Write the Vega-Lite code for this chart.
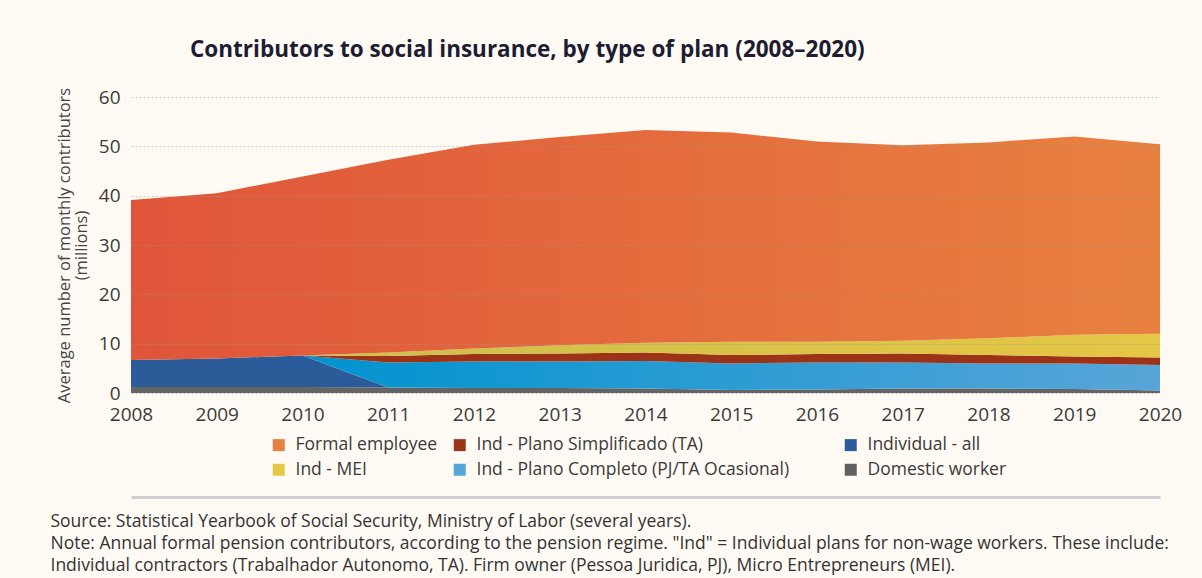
{
  "$schema": "https://vega.github.io/schema/vega-lite/v6.json",
  "width": 1029,
  "height": 296,
  "autosize": {"type": "none"},
  "padding": {"left": 131, "top": 97, "right": 42, "bottom": 185},
  "background": "#FFFBF4",
  "title": {
    "text": "Contributors to social insurance, by type of plan (2008–2020)",
    "anchor": "start",
    "frame": "group",
    "dx": 59,
    "offset": 26,
    "font": "Open Sans",
    "fontSize": 22.5,
    "fontWeight": "bold",
    "color": "#1c1d33"
  },
  "data": {
    "values": [
      {"year": 2008, "type": "Domestic worker", "value": 1.2},
      {"year": 2008, "type": "Individual - all", "value": 5.5},
      {"year": 2008, "type": "Formal employee", "value": 32.4},
      {"year": 2009, "type": "Domestic worker", "value": 1.2},
      {"year": 2009, "type": "Individual - all", "value": 5.8},
      {"year": 2009, "type": "Formal employee", "value": 33.5},
      {"year": 2010, "type": "Domestic worker", "value": 1.2},
      {"year": 2010, "type": "Individual - all", "value": 6.4},
      {"year": 2010, "type": "Ind - Plano Completo (PJ/TA Ocasional)", "value": 0},
      {"year": 2010, "type": "Ind - Plano Simplificado (TA)", "value": 0},
      {"year": 2010, "type": "Ind - MEI", "value": 0},
      {"year": 2010, "type": "Formal employee", "value": 36.3},
      {"year": 2011, "type": "Domestic worker", "value": 1.1},
      {"year": 2011, "type": "Individual - all", "value": 0},
      {"year": 2011, "type": "Ind - Plano Completo (PJ/TA Ocasional)", "value": 5.1},
      {"year": 2011, "type": "Ind - Plano Simplificado (TA)", "value": 1.3},
      {"year": 2011, "type": "Ind - MEI", "value": 0.7},
      {"year": 2011, "type": "Formal employee", "value": 39.1},
      {"year": 2012, "type": "Domestic worker", "value": 1.0},
      {"year": 2012, "type": "Ind - Plano Completo (PJ/TA Ocasional)", "value": 5.4},
      {"year": 2012, "type": "Ind - Plano Simplificado (TA)", "value": 1.5},
      {"year": 2012, "type": "Ind - MEI", "value": 1.1},
      {"year": 2012, "type": "Formal employee", "value": 41.3},
      {"year": 2013, "type": "Domestic worker", "value": 1.0},
      {"year": 2013, "type": "Ind - Plano Completo (PJ/TA Ocasional)", "value": 5.4},
      {"year": 2013, "type": "Ind - Plano Simplificado (TA)", "value": 1.6},
      {"year": 2013, "type": "Ind - MEI", "value": 1.7},
      {"year": 2013, "type": "Formal employee", "value": 42.2},
      {"year": 2014, "type": "Domestic worker", "value": 0.9},
      {"year": 2014, "type": "Ind - Plano Completo (PJ/TA Ocasional)", "value": 5.6},
      {"year": 2014, "type": "Ind - Plano Simplificado (TA)", "value": 1.7},
      {"year": 2014, "type": "Ind - MEI", "value": 2.0},
      {"year": 2014, "type": "Formal employee", "value": 43.1},
      {"year": 2015, "type": "Domestic worker", "value": 0.6},
      {"year": 2015, "type": "Ind - Plano Completo (PJ/TA Ocasional)", "value": 5.4},
      {"year": 2015, "type": "Ind - Plano Simplificado (TA)", "value": 1.7},
      {"year": 2015, "type": "Ind - MEI", "value": 2.7},
      {"year": 2015, "type": "Formal employee", "value": 42.4},
      {"year": 2016, "type": "Domestic worker", "value": 0.7},
      {"year": 2016, "type": "Ind - Plano Completo (PJ/TA Ocasional)", "value": 5.5},
      {"year": 2016, "type": "Ind - Plano Simplificado (TA)", "value": 1.7},
      {"year": 2016, "type": "Ind - MEI", "value": 2.5},
      {"year": 2016, "type": "Formal employee", "value": 40.6},
      {"year": 2017, "type": "Domestic worker", "value": 0.9},
      {"year": 2017, "type": "Ind - Plano Completo (PJ/TA Ocasional)", "value": 5.3},
      {"year": 2017, "type": "Ind - Plano Simplificado (TA)", "value": 1.8},
      {"year": 2017, "type": "Ind - MEI", "value": 2.6},
      {"year": 2017, "type": "Formal employee", "value": 39.6},
      {"year": 2018, "type": "Domestic worker", "value": 0.9},
      {"year": 2018, "type": "Ind - Plano Completo (PJ/TA Ocasional)", "value": 5.1},
      {"year": 2018, "type": "Ind - Plano Simplificado (TA)", "value": 1.7},
      {"year": 2018, "type": "Ind - MEI", "value": 3.4},
      {"year": 2018, "type": "Formal employee", "value": 39.7},
      {"year": 2019, "type": "Domestic worker", "value": 0.8},
      {"year": 2019, "type": "Ind - Plano Completo (PJ/TA Ocasional)", "value": 5.2},
      {"year": 2019, "type": "Ind - Plano Simplificado (TA)", "value": 1.4},
      {"year": 2019, "type": "Ind - MEI", "value": 4.4},
      {"year": 2019, "type": "Formal employee", "value": 40.2},
      {"year": 2020, "type": "Domestic worker", "value": 0.5},
      {"year": 2020, "type": "Ind - Plano Completo (PJ/TA Ocasional)", "value": 5.2},
      {"year": 2020, "type": "Ind - Plano Simplificado (TA)", "value": 1.5},
      {"year": 2020, "type": "Ind - MEI", "value": 4.8},
      {"year": 2020, "type": "Formal employee", "value": 38.4}
    ]
  },
  "layer": [
    {
      "encoding": {
        "x": {
          "field": "year",
          "type": "quantitative",
          "scale": {"domain": [2008, 2020], "nice": false, "zero": false},
          "axis": {
            "values": [2008, 2009, 2010, 2011, 2012, 2013, 2014, 2015, 2016, 2017, 2018, 2019, 2020],
            "format": "d",
            "title": null,
            "grid": false,
            "domain": false,
            "ticks": false,
            "labelFont": "Open Sans",
            "labelFontSize": 19,
            "labelColor": "#3a3a3a",
            "labelPadding": 12,
            "labelFlush": false
          }
        },
        "y": {
          "field": "v1",
          "type": "quantitative",
          "scale": {"domain": [0, 60], "nice": false},
          "axis": {
            "title": ["Average number of monthly contributors", "(millions)"],
            "titleFont": "Open Sans",
            "titleFontSize": 16.5,
            "titleFontWeight": "normal",
            "titleColor": "#444444",
            "titlePadding": 9,
            "titleLineHeight": 17,
            "values": [0, 10, 20, 30, 40, 50, 60],
            "grid": true,
            "gridDash": [2, 2],
            "gridColor": "#999999",
            "gridOpacity": 0.5,
            "gridWidth": 1.2,
            "domain": false,
            "ticks": false,
            "labelFont": "Open Sans",
            "labelFontSize": 19,
            "labelColor": "#3a3a3a",
            "labelPadding": 11,
            "zindex": 1
          }
        },
        "y2": {"field": "v0"}
      },
      "layer": [
        {
          "transform": [
            {"stack": "value", "groupby": ["year"], "as": ["v0", "v1"]},
            {"filter": {"field": "type", "equal": "Domestic worker"}}
          ],
          "mark": {"type": "area", "interpolate": "linear", "fill": "#646464"}
        },
        {
          "transform": [
            {"stack": "value", "groupby": ["year"], "as": ["v0", "v1"]},
            {"filter": {"field": "type", "equal": "Individual - all"}}
          ],
          "mark": {"type": "area", "interpolate": "linear", "fill": "#2B5B99"}
        },
        {
          "transform": [
            {"stack": "value", "groupby": ["year"], "as": ["v0", "v1"]},
            {"filter": {"field": "type", "equal": "Ind - Plano Completo (PJ/TA Ocasional)"}}
          ],
          "mark": {
            "type": "area",
            "interpolate": "linear",
            "fill": {"gradient": "linear", "stops": [{"offset": 0, "color": "#0093CF"}, {"offset": 1, "color": "#58A5D8"}]}
          }
        },
        {
          "transform": [
            {"stack": "value", "groupby": ["year"], "as": ["v0", "v1"]},
            {"filter": {"field": "type", "equal": "Ind - Plano Simplificado (TA)"}}
          ],
          "mark": {"type": "area", "interpolate": "linear", "fill": "#9C3316"}
        },
        {
          "transform": [
            {"stack": "value", "groupby": ["year"], "as": ["v0", "v1"]},
            {"filter": {"field": "type", "equal": "Ind - MEI"}}
          ],
          "mark": {
            "type": "area",
            "interpolate": "linear",
            "fill": {"gradient": "linear", "stops": [{"offset": 0, "color": "#CBBF4B"}, {"offset": 1, "color": "#E6C645"}]}
          }
        },
        {
          "transform": [
            {"stack": "value", "groupby": ["year"], "as": ["v0", "v1"]},
            {"filter": {"field": "type", "equal": "Formal employee"}}
          ],
          "mark": {
            "type": "area",
            "interpolate": "linear",
            "fill": {"gradient": "linear", "stops": [{"offset": 0, "color": "#E0553A"}, {"offset": 1, "color": "#E8813F"}]}
          }
        },
        {
          "transform": [
            {"stack": "value", "groupby": ["year"], "as": ["v0", "v1"]}
          ],
          "mark": {"type": "area", "opacity": 0},
          "encoding": {
            "color": {
              "field": "type",
              "type": "nominal",
              "scale": {
                "domain": ["Formal employee", "Ind - Plano Simplificado (TA)", "Individual - all", "Ind - MEI", "Ind - Plano Completo (PJ/TA Ocasional)", "Domestic worker"],
                "range": ["#E8803F", "#9C3418", "#2B5B9A", "#E6C645", "#56A6DA", "#606060"]
              },
              "legend": {
                "orient": "none",
                "legendX": 139,
                "legendY": 339,
                "direction": "horizontal",
                "columns": 3,
                "title": null,
                "symbolType": "square",
                "symbolSize": 144,
                "symbolStrokeWidth": 0,
                "symbolOpacity": 1,
                "labelFont": "Open Sans",
                "labelFontSize": 17.5,
                "labelColor": "#3a3a3a",
                "labelLimit": 700,
                "labelOffset": 8,
                "labelExpr": "datum.label == 'Ind - Plano Completo (PJ/TA Ocasional)' ? datum.label + '\u2800\u2800\u2800' : datum.label",
                "columnPadding": 13,
                "rowPadding": 6,
                "padding": 0
              }
            }
          }
        }
      ]
    },
    {
      "mark": {"type": "point", "opacity": 0},
      "encoding": {
        "x": {
          "field": "year",
          "type": "quantitative",
          "scale": {"domain": [2008, 2020], "nice": false, "zero": false},
          "axis": {
            "orient": "bottom",
            "offset": 104,
            "labels": false,
            "ticks": false,
            "grid": false,
            "domain": true,
            "domainColor": "#cfcfcf",
            "domainWidth": 3,
            "title": [
              "Source: Statistical Yearbook of Social Security, Ministry of Labor (several years).",
              "Note: Annual formal pension contributors, according to the pension regime. \"Ind\" = Individual plans for non-wage workers. These include:",
              "Individual contractors (Trabalhador Autonomo, TA). Firm owner (Pessoa Juridica, PJ), Micro Entrepreneurs (MEI)."
            ],
            "titleFont": "Open Sans",
            "titleFontSize": 17.5,
            "titleFontWeight": "normal",
            "titleColor": "#333333",
            "titleAlign": "left",
            "titleAnchor": "start",
            "titleBaseline": "top",
            "titleX": -81,
            "titleY": 15,
            "titleLineHeight": 22
          }
        }
      }
    }
  ],
  "resolve": {"axis": {"x": "independent"}},
  "config": {"view": {"stroke": null}, "font": "Open Sans"}
}
